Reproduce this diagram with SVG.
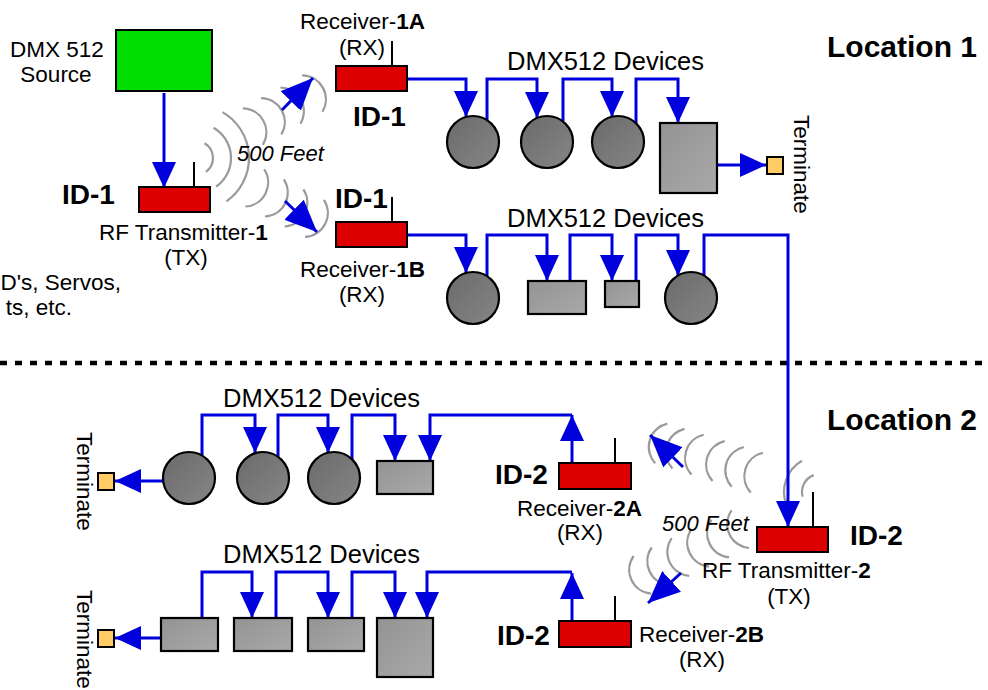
<svg xmlns="http://www.w3.org/2000/svg" width="988" height="690" viewBox="0 0 988 690">
<style>
text{font-family:"Liberation Sans",Arial,sans-serif;fill:#000}
.t{font-size:22.5px}
.dv{font-size:25.5px}
.id{font-size:28px;font-weight:bold}
.loc{font-size:30px;font-weight:bold}
.it{font-size:22px;font-style:italic}
.b{font-weight:bold}
.w{fill:none;stroke:#9a9a9a;stroke-width:2.2}
.c{fill:none;stroke:#0000DD;stroke-width:3;marker-end:url(#ah)}
.d{fill:none;stroke:#0000DD;stroke-width:3;marker-end:url(#ahd)}
.red{fill:#DD0000;stroke:#000;stroke-width:2}
.ant{stroke:#000;stroke-width:2}
.circ{fill:url(#gc);stroke:#000;stroke-width:2.2}
.box{fill:url(#gr);stroke:#000;stroke-width:2.2}
.term{fill:#FFCC66;stroke:#000;stroke-width:2}
</style>
<defs>
<marker id="ah" markerUnits="userSpaceOnUse" markerWidth="28" markerHeight="26" refX="26" refY="12" orient="auto"><path d="M0,0 L26,12 L0,24 z" fill="#0000DD"/></marker>
<marker id="ahd" markerUnits="userSpaceOnUse" markerWidth="34" markerHeight="30" refX="32" refY="14" orient="auto"><path d="M0,0 L32,14 L0,28 z" fill="#0000DD"/></marker>
<linearGradient id="gc" x1="0" y1="0" x2="1" y2="1"><stop offset="0" stop-color="#6a6a6a"/><stop offset="1" stop-color="#868686"/></linearGradient>
<linearGradient id="gr" x1="0" y1="0" x2="1" y2="1"><stop offset="0" stop-color="#939393"/><stop offset="1" stop-color="#a9a9a9"/></linearGradient>
</defs>
<rect width="988" height="690" fill="#fff"/>

<!-- dashed separator -->
<line x1="0" y1="363" x2="988" y2="363" stroke="#000" stroke-width="4.5" stroke-dasharray="7 8"/>

<!-- radio waves -->
<g id="waves">
<path class="w" d="M204.5,143.3 A17,17 0 0 1 205.8,171.9"/>
<path class="w" d="M213.5,127.7 A35,35 0 0 1 216.1,186.7"/>
<path class="w" d="M222.5,112.1 A53,53 0 0 1 226.4,201.4"/>
<path class="w" d="M242.8,108.3 A24,24 0 0 1 262.9,144.7"/>
<path class="w" d="M261.1,98.1 A24,24 0 0 1 281.3,134.5"/>
<path class="w" d="M280.4,87.5 A24,24 0 0 1 300.5,123.8"/>
<path class="w" d="M302.2,75.3 A24,24 0 0 1 322.4,111.7"/>
<path class="w" d="M264.2,169.4 A24,24 0 0 1 245.4,206.5"/>
<path class="w" d="M283.8,179.4 A24,24 0 0 1 265.0,216.5"/>
<path class="w" d="M303.4,189.4 A24,24 0 0 1 284.6,226.5"/>
<path class="w" d="M323.9,199.8 A24,24 0 0 1 305.1,236.9"/>

<path class="w" d="M802.6,496.7 A18,18 0 0 1 813.8,475.1"/>
<path class="w" d="M786.2,504.3 A36,36 0 0 1 802,460.8"/>
<path class="w" d="M750.8,492.6 A24,24 0 0 1 763.0,452.8"/>
<path class="w" d="M731.7,486.7 A24,24 0 0 1 743.8,447.0"/>
<path class="w" d="M712.6,480.9 A24,24 0 0 1 724.7,441.1"/>
<path class="w" d="M691.5,474.5 A24,24 0 0 1 703.7,434.7"/>
<path class="w" d="M672.4,468.6 A24,24 0 0 1 684.5,428.9"/>
<path class="w" d="M655.2,463.3 A24,24 0 0 1 667.3,423.6"/>
<path class="w" d="M749.0,548.0 A24,24 0 0 1 731.5,510.4"/>
<path class="w" d="M729.1,557.3 A24,24 0 0 1 711.5,519.6"/>
<path class="w" d="M709.2,566.6 A24,24 0 0 1 691.6,528.9"/>
<path class="w" d="M689.2,575.9 A24,24 0 0 1 671.7,538.2"/>
<path class="w" d="M669.3,585.2 A24,24 0 0 1 651.7,547.5"/>
<path class="w" d="M651.2,593.7 A24,24 0 0 1 633.6,556.0"/>
</g>

<!-- connectors -->
<g id="connectors">
<path class="c" d="M164,93 V188"/>
<path class="d" d="M282,110 L313,78"/>
<path class="d" d="M285,201 L317,232"/>
<path class="c" d="M407,79 H466 V117"/>
<path class="c" d="M487,120 V79 H537 V118"/>
<path class="c" d="M563,121 V79 H612 V117"/>
<path class="c" d="M636,123 V79 H678 V123"/>
<path class="c" d="M717,165 H766"/>
<path class="c" d="M407,235 H466 V273"/>
<path class="c" d="M487,276 V235 H547 V281"/>
<path class="c" d="M570,281 V235 H612 V281"/>
<path class="c" d="M636,281 V235 H678 V276"/>
<path class="c" d="M704,276 V235 H788 V527"/>
<path class="d" d="M683,467 L650,435"/>
<path class="d" d="M681,573 L648,603"/>
<path class="c" d="M572,463 V415"/>
<path class="c" d="M572,415 H430 V461"/>
<path class="c" d="M352,459 V415 H395 V461"/>
<path class="c" d="M278,457 V415 H328 V453"/>
<path class="c" d="M202,455 V415 H255 V453"/>
<path class="c" d="M163,481 H115"/>
<path class="c" d="M572,621 V573"/>
<path class="c" d="M572,572 H427 V618"/>
<path class="c" d="M352,618 V572 H395 V618"/>
<path class="c" d="M276,618 V572 H328 V618"/>
<path class="c" d="M202,618 V572 H252 V618"/>
<path class="c" d="M161,638 H115"/>
</g>

<!-- Location 1 -->
<g id="source">
<rect x="116" y="30" width="96" height="61" fill="#00DD00" stroke="#000" stroke-width="2"/>
<text class="t" x="57" y="57" text-anchor="middle">DMX 512</text>
<text class="t" x="56" y="82" text-anchor="middle">Source</text>
</g>
<g id="tx1">
<line class="ant" x1="194" y1="162" x2="194" y2="187"/>
<rect class="red" x="139" y="187" width="71" height="25"/>
<text class="id" x="62" y="204">ID-1</text>
<text class="t" x="99" y="240">RF Transmitter-<tspan class="b">1</tspan></text>
<text class="t" x="186" y="265" text-anchor="middle">(TX)</text>
<text class="it" x="237" y="161">500 Feet</text>
</g>
<g id="note">
<text class="t" x="121" y="290" text-anchor="end">D's, Servos,</text>
<text class="t" x="72" y="315" text-anchor="end">ts, etc.</text>
</g>
<g id="rx1a">
<line class="ant" x1="392" y1="41" x2="392" y2="66"/>
<rect class="red" x="336" y="66" width="71" height="25"/>
<text class="t" x="300" y="29">Receiver-<tspan class="b">1A</tspan></text>
<text class="t" x="362" y="55" text-anchor="middle">(RX)</text>
<text class="id" x="353" y="126">ID-1</text>
</g>
<g id="rx1b">
<line class="ant" x1="392" y1="197" x2="392" y2="222"/>
<rect class="red" x="336" y="222" width="71" height="25"/>
<text class="id" x="335" y="208">ID-1</text>
<text class="t" x="300" y="277">Receiver-<tspan class="b">1B</tspan></text>
<text class="t" x="362" y="302" text-anchor="middle">(RX)</text>
</g>
<g id="devices1a">
<text class="dv" x="507" y="70">DMX512 Devices</text>
<circle class="circ" cx="473" cy="142" r="26"/>
<circle class="circ" cx="547" cy="142" r="26"/>
<circle class="circ" cx="618" cy="142" r="26"/>
<rect class="box" x="660" y="123" width="57" height="70"/>
</g>
<g id="term1">
<rect class="term" x="767" y="157" width="16" height="17"/>
<text class="t" transform="translate(794,115) rotate(90)">Terminate</text>
</g>
<g id="devices1b">
<text class="dv" x="507" y="227">DMX512 Devices</text>
<circle class="circ" cx="473" cy="298" r="26"/>
<rect class="box" x="528" y="281" width="58" height="33"/>
<rect class="box" x="605" y="281" width="34" height="26"/>
<circle class="circ" cx="691" cy="298" r="26"/>
</g>
<text class="loc" x="827" y="57">Location 1</text>

<!-- Location 2 -->
<text class="loc" x="827" y="430">Location 2</text>
<g id="tx2">
<line class="ant" x1="813" y1="492" x2="813" y2="527"/>
<rect class="red" x="757" y="527" width="71" height="25"/>
<text class="id" x="850" y="545">ID-2</text>
<text class="t" x="702" y="578">RF Transmitter-<tspan class="b">2</tspan></text>
<text class="t" x="789" y="604" text-anchor="middle">(TX)</text>
<text class="it" x="662" y="531">500 Feet</text>
</g>
<g id="rx2a">
<line class="ant" x1="615" y1="438" x2="615" y2="463"/>
<rect class="red" x="559" y="463" width="72" height="26"/>
<text class="id" x="495" y="484">ID-2</text>
<text class="t" x="517" y="516">Receiver-<tspan class="b">2A</tspan></text>
<text class="t" x="580" y="540" text-anchor="middle">(RX)</text>
</g>
<g id="rx2b">
<line class="ant" x1="615" y1="596" x2="615" y2="621"/>
<rect class="red" x="559" y="621" width="72" height="26"/>
<text class="id" x="497" y="645">ID-2</text>
<text class="t" x="639" y="642">Receiver-<tspan class="b">2B</tspan></text>
<text class="t" x="702" y="667" text-anchor="middle">(RX)</text>
</g>
<g id="devices2a">
<text class="dv" x="223" y="407">DMX512 Devices</text>
<circle class="circ" cx="189" cy="478" r="26"/>
<circle class="circ" cx="263" cy="478" r="26"/>
<circle class="circ" cx="334" cy="478" r="26"/>
<rect class="box" x="377" y="461" width="56" height="33"/>
</g>
<g id="term2a">
<rect class="term" x="98" y="473" width="16" height="17"/>
<text class="t" transform="translate(77,432) rotate(90)">Terminate</text>
</g>
<g id="devices2b">
<text class="dv" x="223" y="563">DMX512 Devices</text>
<rect class="box" x="161" y="618" width="57" height="33"/>
<rect class="box" x="234" y="618" width="58" height="33"/>
<rect class="box" x="308" y="618" width="56" height="33"/>
<rect class="box" x="377" y="618" width="56" height="59"/>
</g>
<g id="term2b">
<rect class="term" x="98" y="630" width="16" height="17"/>
<text class="t" transform="translate(77,590) rotate(90)">Terminate</text>
</g>
</svg>
